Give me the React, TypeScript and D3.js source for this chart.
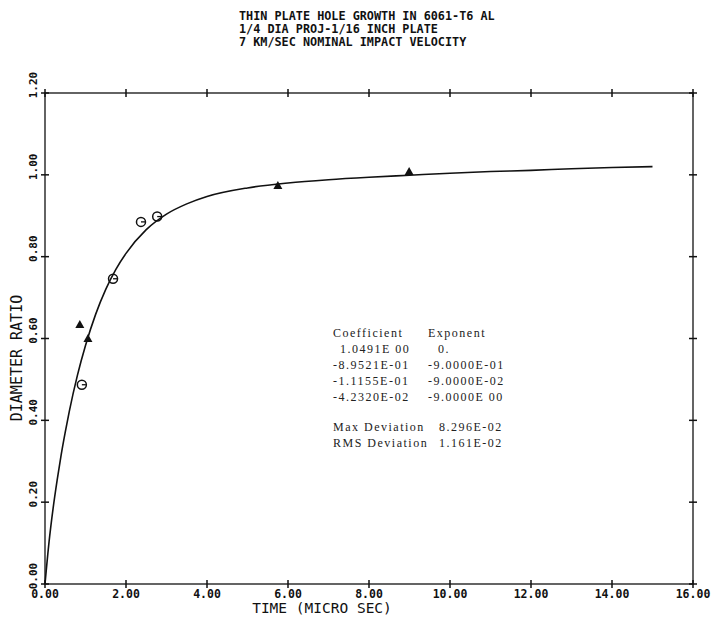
import React from 'react';
import * as d3 from 'd3';

// title lines
const titleLines = [
    "THIN PLATE HOLE GROWTH IN 6061-T6 AL",
    "1/4 DIA PROJ-1/16 INCH PLATE",
    "7 KM/SEC NOMINAL IMPACT VELOCITY",
];

const xTicks = [0, 2, 4, 6, 8, 10, 12, 14, 16];
const yTicks = [0, 0.2, 0.4, 0.6, 0.8, 1.0, 1.2];

// measured points
const circleT = [0.91, 1.68, 2.37, 2.77];
const circleD = [0.487, 0.746, 0.885, 0.898];
const triT = [0.86, 1.06, 5.75, 8.99];
const triD = [0.633, 0.599, 0.973, 1.007];

// fitted curve
const fitT = [0, 0.1, 0.2, 0.3, 0.4, 0.5, 0.6, 0.8, 1.0, 1.25, 1.5, 1.75, 2.0, 2.5, 3.0, 3.5, 4.0, 5.0, 6.0, 7.0, 8.0, 9.0, 10, 11, 12, 13, 14, 15];
const fitD = [0, 0.103, 0.185, 0.254, 0.316, 0.371, 0.422, 0.510, 0.583, 0.659, 0.720, 0.769, 0.808, 0.866, 0.904, 0.929, 0.947, 0.968, 0.980, 0.988, 0.994, 0.999, 1.004, 1.008, 1.011, 1.015, 1.018, 1.020];

const coefficients = ["-8.9521E-01", "-1.1155E-01", "-4.2320E-02"];
const exponents = ["-9.0000E-01", "-9.0000E-02", "-9.0000E 00"];
const maxDev = "8.296E-02";
const rmsDev = "1.161E-02";

const W = 722, H = 624;
const left = 45, right = 693, top = 93, bottom = 584;

const App: React.FC = () => {
    const x = d3.scaleLinear().domain([0, 16]).range([left, right]);
    const y = d3.scaleLinear().domain([0, 1.2]).range([bottom, top]);

    const line = d3.line<number>()
        .x((d, i) => x(fitT[i]))
        .y(d => y(d))
        .curve(d3.curveMonotoneX);

    const mono = "'DejaVu Sans Mono', monospace";
    const serif = "'Liberation Serif', 'DejaVu Serif', serif";
    const ink = "#111";

    const tri = (cx: number, cy: number) =>
        `M${cx},${cy - 5}L${cx + 4.5},${cy + 3}L${cx - 4.5},${cy + 3}Z`;

    const rowY = [333, 349, 365, 381, 397];

    return (
        <svg width={W} height={H} style={{ position: 'absolute', left: 0, top: 0, background: '#fff' }}>
            {/* title */}
            {titleLines.map((t, i) => (
                <text key={t} x={239} y={20 + i * 13} fontFamily={mono} fontWeight="bold"
                    fontSize={11.8} fill={ink}>{t}</text>
            ))}

            {/* frame */}
            <rect x={left} y={top} width={right - left} height={bottom - top}
                fill="none" stroke={ink} strokeWidth={1.3} />

            {/* ticks */}
            {xTicks.map(t => (
                <g key={"x" + t}>
                    <line x1={x(t)} x2={x(t)} y1={bottom - 4} y2={bottom + 4} stroke={ink} strokeWidth={1.5} />
                    <line x1={x(t)} x2={x(t)} y1={top - 4} y2={top + 4} stroke={ink} strokeWidth={1.5} />
                    <text x={x(t)} y={598} textAnchor="middle" fontFamily={mono} fontWeight="bold"
                        fontSize={11.5} fill={ink}>{t.toFixed(2)}</text>
                </g>
            ))}
            {yTicks.map(t => (
                <g key={"y" + t}>
                    <line x1={left - 4} x2={left + 4} y1={y(t)} y2={y(t)} stroke={ink} strokeWidth={1.5} />
                    <line x1={right - 4} x2={right + 4} y1={y(t)} y2={y(t)} stroke={ink} strokeWidth={1.5} />
                    <text transform={`translate(37,${y(t) - 8}) rotate(-90)`} textAnchor="middle"
                        fontFamily={mono} fontWeight="bold" fontSize={11} fill={ink}>{t.toFixed(2)}</text>
                </g>
            ))}

            {/* axis titles */}
            <text x={322} y={613} textAnchor="middle" fontFamily={mono} fontSize={14.5} fill={ink}>TIME (MICRO SEC)</text>
            <text transform="translate(22,358) rotate(-90)" textAnchor="middle" fontFamily={mono}
                fontSize={15} fill={ink}>DIAMETER RATIO</text>

            {/* fit curve */}
            <path d={line(fitD) || ""} fill="none" stroke={ink} strokeWidth={1.6} />

            {/* circles */}
            {circleT.map((t, i) => (
                <g key={"c" + i}>
                    <circle cx={x(t)} cy={y(circleD[i])} r={4.5} fill="none" stroke={ink} strokeWidth={1.5} />
                    <line x1={x(t)} x2={x(t) + 4} y1={y(circleD[i])} y2={y(circleD[i])} stroke={ink} strokeWidth={1.3} />
                </g>
            ))}
            {/* triangles */}
            {triT.map((t, i) => (
                <path key={"t" + i} d={tri(x(t), y(triD[i]))} fill={ink} />
            ))}

            {/* fit table */}
            <g fontFamily={serif} fontSize={12} fill="#222" letterSpacing={1.5}>
                <text x={333} y={rowY[0] + 4}>Coefficient</text>
                <text x={428} y={rowY[0] + 4}>Exponent</text>
                <text x={340} y={rowY[1] + 4}>1.0491E 00</text>
                <text x={438} y={rowY[1] + 4}>0.</text>
                {coefficients.map((c, i) => (
                    <g key={c}>
                        <text x={333} y={rowY[i + 2] + 4}>{c}</text>
                        <text x={428} y={rowY[i + 2] + 4}>{exponents[i]}</text>
                    </g>
                ))}
                <text x={333} y={431}>Max Deviation</text>
                <text x={439} y={431}>{maxDev}</text>
                <text x={333} y={447}>RMS Deviation</text>
                <text x={439} y={447}>{rmsDev}</text>
            </g>
        </svg>
    );
};

export default App;
